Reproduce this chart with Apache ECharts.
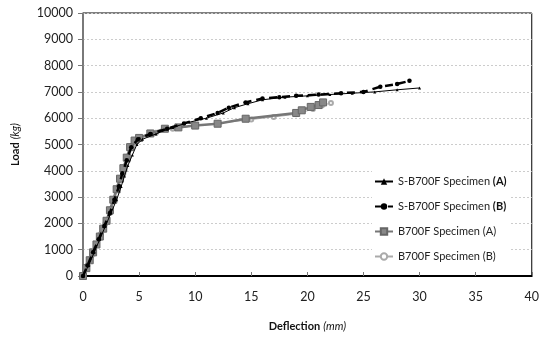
<!DOCTYPE html>
<html>
<head>
<meta charset="utf-8">
<script src="https://cdn.jsdelivr.net/npm/echarts@6/dist/echarts.min.js"></script>
<style>
  html, body { margin: 0; padding: 0; background: #fff; }
  #chart { width: 542px; height: 337px; }
</style>
</head>
<body>
<div id="chart"></div>
<script>
// deflection (mm), load (kg) pairs
const sA = [
  [0, 0], [0.5, 400], [1, 900], [1.5, 1400], [2, 1900], [2.5, 2400], [3, 2900],
  [3.4, 3400], [3.7, 3800], [4.0, 4200], [4.4, 4600], [4.8, 5000], [5.3, 5200],
  [6.5, 5400], [8, 5650], [9.5, 5850], [11, 6000], [12.5, 6200], [13.5, 6400],
  [14.7, 6550], [16, 6700], [18, 6800], [20, 6850], [22, 6900], [24, 6950],
  [26, 7000], [28, 7080], [30, 7150]
]
const sB = [
  [0, 0], [0.4, 400], [0.9, 900], [1.4, 1400], [1.9, 1900], [2.4, 2400], [2.8, 2900],
  [3.2, 3400], [3.5, 3900], [3.9, 4400], [4.3, 4900], [4.9, 5200], [6, 5400],
  [7.5, 5600], [9, 5800], [10.5, 6000], [12, 6200], [13, 6400], [14.5, 6600],
  [16, 6750], [17.5, 6800], [19, 6850], [21, 6900], [23, 6950], [25, 7000],
  [26.5, 7200], [28, 7300], [29.1, 7420]
]
const bA = [
  [0, 0], [0.3, 300], [0.6, 600], [0.9, 900], [1.2, 1200], [1.5, 1500], [1.8, 1800],
  [2.1, 2100], [2.4, 2500], [2.7, 2900], [3.0, 3300], [3.3, 3700], [3.6, 4100],
  [3.9, 4500], [4.2, 4900], [4.6, 5150], [5, 5250], [6, 5420], [7.3, 5600],
  [8.5, 5650], [10, 5720], [12, 5790], [14.5, 5980], [19, 6200], [19.5, 6300],
  [20.3, 6430], [21, 6500], [21.4, 6600]
]
const bB = [
  [0, 0], [0.4, 400], [0.8, 800], [1.2, 1200], [1.6, 1600], [2.0, 2000], [2.4, 2400],
  [2.8, 2900], [3.2, 3400], [3.6, 3900], [4.0, 4400], [4.4, 4900], [5, 5200],
  [6.5, 5450], [8, 5600], [10, 5720], [12, 5800], [15, 5950], [17, 6050],
  [19, 6150], [20.5, 6350], [21.3, 6480], [22.1, 6580]
]
const seriesNames = ['S-B700F Specimen (A)', 'S-B700F Specimen (B)', 'B700F Specimen (A)', 'B700F Specimen (B)']

const chart = echarts.init(document.getElementById('chart'))
const font = 'Lato, "Open Sans", sans-serif'

chart.setOption({
  animation: false,
  textStyle: { fontFamily: font },
  grid: {
    left: 83, right: 9, top: 13, bottom: 58,
    show: true, borderColor: '#000', borderWidth: 1
  },
  legend: {
    orient: 'vertical',
    left: 372, top: 168,
    backgroundColor: '#fff',
    padding: [8, 4, 10, 2],
    itemWidth: 18, itemHeight: 8, itemGap: 14,
    data: seriesNames,
    formatter: (name) => {
      const m = name.match(/^(.*) (\(.\))$/)
      return name.startsWith('S-') ? '{n|' + m[1] + ' }{b|' + m[2] + '}' : '{n|' + name + '}'
    },
    textStyle: {
      rich: {
        n: { fontSize: 11, color: '#222', fontFamily: font },
        b: { fontSize: 11, color: '#111', fontWeight: 'bold', fontFamily: font }
      }
    }
  },
  xAxis: {
    type: 'value', min: 0, max: 40, interval: 5,
    name: '{b|Deflection} {i|(mm)}',
    nameLocation: 'middle', nameGap: 44,
    nameTextStyle: {
      rich: {
        b: { fontSize: 11, fontWeight: 'bold', color: '#111', fontFamily: font },
        i: { fontSize: 11, fontStyle: 'italic', color: '#111', fontFamily: font }
      }
    },
    axisLine: { lineStyle: { color: '#000', width: 2 } },
    axisTick: { inside: true, length: 4, lineStyle: { color: '#777' } },
    axisLabel: { fontSize: 12.5, color: '#222', margin: 14 },
    splitLine: { show: false }
  },
  yAxis: {
    type: 'value', min: 0, max: 10000, interval: 1000,
    name: '{b|Load} {i|(kg)}',
    nameLocation: 'middle', nameGap: 62, nameRotate: 90,
    nameTextStyle: {
      rich: {
        b: { fontSize: 11, fontWeight: 'bold', color: '#111', fontFamily: font },
        i: { fontSize: 11, fontStyle: 'italic', color: '#111', fontFamily: font }
      }
    },
    axisLine: { show: true, lineStyle: { color: '#777', width: 1.5 } },
    axisTick: { show: true, length: 5, lineStyle: { color: '#777' } },
    axisLabel: { fontSize: 12.5, color: '#222', margin: 10, formatter: (v) => String(v) },
    splitLine: { lineStyle: { color: '#ccc', type: [2, 2], width: 1 } }
  },
  series: [
    {
      name: seriesNames[3], type: 'line', data: bB, z: 2,
      symbol: 'emptyCircle', symbolSize: 4,
      lineStyle: { color: '#aaa', width: 1 },
      itemStyle: { color: '#aaa', borderColor: '#aaa' }
    },
    {
      name: seriesNames[2], type: 'line', data: bA, z: 3,
      symbol: 'rect', symbolSize: 7,
      lineStyle: { color: '#777', width: 2.5 },
      itemStyle: { color: '#888', borderColor: '#666', borderWidth: 1 }
    },
    {
      name: seriesNames[1], type: 'line', data: sB, z: 4,
      symbol: 'circle', symbolSize: 4.5,
      lineStyle: { color: '#000', width: 2.5, type: [8, 5] },
      itemStyle: { color: '#000' }
    },
    {
      name: seriesNames[0], type: 'line', data: sA, z: 5,
      symbol: 'triangle', symbolSize: 3,
      lineStyle: { color: '#000', width: 1 },
      itemStyle: { color: '#000' }
    }
  ]
})
</script>
</body>
</html>
